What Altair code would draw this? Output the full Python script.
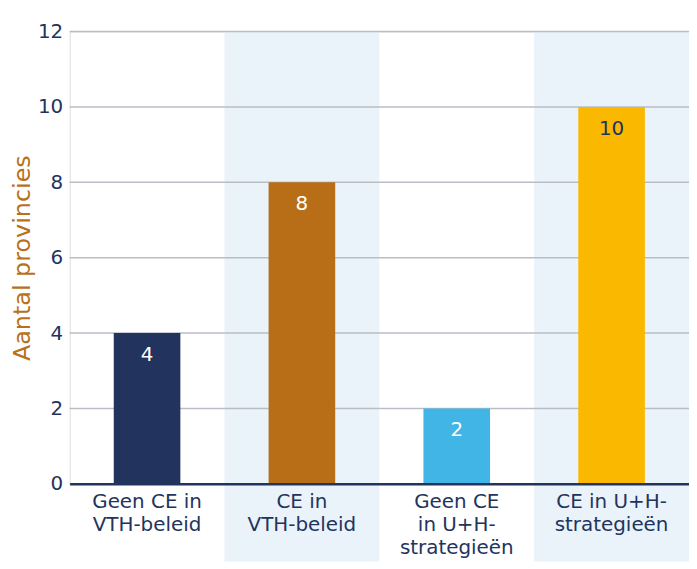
import altair as alt
import pandas as pd

categories = ["Geen CE in|VTH-beleid", "CE in|VTH-beleid", "Geen CE|in U+H-|strategieën", "CE in U+H-|strategieën"]
values = [4, 8, 2, 10]
bar_colors = ["#22345e", "#b86e16", "#41b6e6", "#fab800"]
shaded = [False, True, False, True]
y_ticks = [0, 2, 4, 6, 8, 10, 12]

NAVY = "#22345e"
FONT = "DejaVu Sans"
W, H = 623, 455
PAD_L, PAD_T, PAD_B = 62, 22, 78

df = pd.DataFrame({"cat": categories, "value": values, "shaded": shaded})
ticks_df = pd.DataFrame({"t": y_ticks})

xenc = alt.X("cat:N", sort=categories, title=None,
             scale=alt.Scale(paddingInner=0, paddingOuter=0),
             axis=alt.Axis(labelExpr="split(datum.label, '|')", labelAngle=0,
                           labelFont=FONT, labelFontSize=20, labelColor=NAVY,
                           labelLineHeight=23, labelPadding=8, ticks=False,
                           domainColor=NAVY, domainWidth=2.5, zindex=1,
                           labelBaseline="top"))
yscale = alt.Scale(domain=[0, 12], nice=False)

bands = alt.Chart(df).transform_filter(alt.datum.shaded).mark_rect(color="#eaf2fa").encode(
    x=xenc,
    y=alt.value(0),
    y2=alt.value(H + PAD_B),
)

grid = alt.Chart(ticks_df).mark_rule(color="#b9bec6", strokeWidth=1.5).encode(
    y=alt.Y("t:Q", scale=yscale, title="Aantal provincies",
            axis=alt.Axis(values=y_ticks, grid=False, ticks=False, domain=False,
                          labelFont=FONT, labelFontSize=20, labelColor=NAVY,
                          labelPadding=7, titleFont=FONT, titleFontSize=24,
                          titleColor="#b8701a", titleFontWeight="normal",
                          titlePadding=3))
)

bars = alt.Chart(df).mark_bar(size=67).encode(
    x=alt.X("cat:N", sort=categories),
    y=alt.Y("value:Q", scale=yscale),
    color=alt.Color("cat:N", sort=categories,
                    scale=alt.Scale(domain=categories, range=bar_colors), legend=None),
)

labels = alt.Chart(df).mark_text(dy=22, baseline="middle", font=FONT, fontSize=20).encode(
    x=alt.X("cat:N", sort=categories),
    y=alt.Y("value:Q", scale=yscale),
    text=alt.Text("value:Q"),
    color=alt.condition(alt.datum.value >= 10, alt.value(NAVY), alt.value("white")),
)

chart = alt.layer(bands, grid, bars, labels).properties(
    width=W, height=H,
    padding={"left": PAD_L, "top": PAD_T, "right": 0, "bottom": PAD_B},
    autosize=alt.AutoSizeParams(type="none"),
).configure_view(stroke=None).configure(background="white")

chart.save("out.html", embed_options={"renderer": "svg", "actions": False})
